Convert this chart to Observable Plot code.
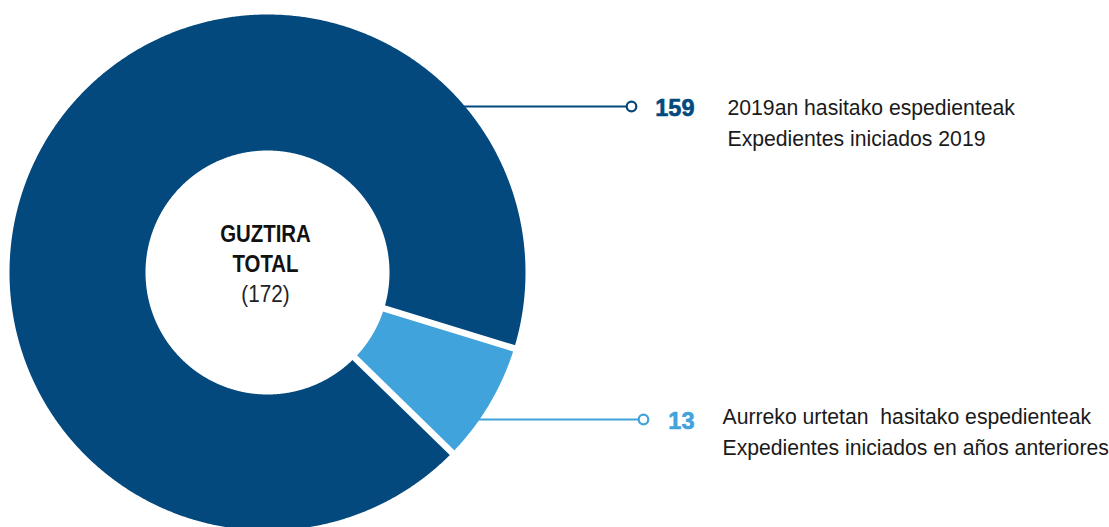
<!DOCTYPE html>
<html>
<head>
<meta charset="utf-8">
<script src="https://cdn.jsdelivr.net/npm/d3@7"></script>
<script src="https://cdn.jsdelivr.net/npm/@observablehq/plot@0.6"></script>
<style>
  html, body { margin: 0; padding: 0; background: #fff; }
  svg text { white-space: pre; }
</style>
</head>
<body>
<div id="chart"></div>
<script>
// ---- data ----
const labelsEu = ["Aurreko urtetan  hasitako espedienteak", "2019an hasitako espedienteak"];
const labelsEs = ["Expedientes iniciados en años anteriores", "Expedientes iniciados 2019"];
const values = [13, 159];
const colors = ["#41a3dc", "#03497e"];
const centerTitle = ["GUZTIRA", "TOTAL"];

// ---- layout ----
const W = 1109, H = 527;
const cx = 267, cy = 272, rOuter = 258, rInner = 122;
const startDeg = 107.1;
const leaderY = [419, 106];
const labelY = [417, 108];
const leaderEndX = [643, 631];
const numberX = 694;
const textX = [722, 727];
const FONT = "'Liberation Sans', Arial, Helvetica, sans-serif";

const total = d3.sum(values);
const pie = d3.pie().sort(null).startAngle(startDeg * Math.PI / 180).endAngle(startDeg * Math.PI / 180 + 2 * Math.PI);
const arcs = pie(values);

function pt(a, r) { return [cx + r * Math.sin(a), cy - r * Math.cos(a)]; }

const poly = [];
arcs.forEach((d, i) => {
  const n = Math.max(8, Math.ceil((d.endAngle - d.startAngle) * 180));
  const pts = [];
  for (let k = 0; k <= n; k++) pts.push(pt(d.startAngle + (d.endAngle - d.startAngle) * k / n, rOuter));
  for (let k = n; k >= 0; k--) pts.push(pt(d.startAngle + (d.endAngle - d.startAngle) * k / n, rInner));
  pts.forEach(([x, y]) => poly.push({key: i, x, y, color: colors[i]}));
});

const gaps = arcs.map(d => {
  const [x1, y1] = pt(d.startAngle, rInner - 2);
  const [x2, y2] = pt(d.startAngle, rOuter + 2);
  return {x1, y1, x2, y2};
});

const leaders = values.map((v, i) => {
  const dy = leaderY[i] - cy;
  const x1 = cx + Math.sqrt(rOuter * rOuter - dy * dy) - 1;
  return {x1, x2: leaderEndX[i] - 5, y: leaderY[i], ly: labelY[i], xe: leaderEndX[i], color: colors[i], v, eu: labelsEu[i], es: labelsEs[i], tx: textX[i]};
});

const chart = Plot.plot({
  width: W, height: H,
  margin: 0,
  x: {domain: [0, W], range: [0, W], axis: null},
  y: {domain: [0, H], range: [0, H], axis: null},
  color: {type: "identity"},
  style: {fontFamily: FONT, background: "#fff"},
  marks: [
    Plot.line(poly, {x: "x", y: "y", z: "key", fill: "color", stroke: null, curve: "linear"}),
    Plot.link(gaps, {x1: "x1", y1: "y1", x2: "x2", y2: "y2", stroke: "white", strokeWidth: 6.5}),
    Plot.ruleY(leaders, {y: "y", x1: "x1", x2: "x2", stroke: "color", strokeWidth: 2}),
    Plot.dot(leaders, {x: "xe", y: "y", r: 4.8, stroke: "color", strokeWidth: 2.2, fill: "white"}),
    Plot.text(leaders, {x: numberX, y: d => d.y + 2, text: d => String(d.v), fill: "color", textAnchor: "end", fontSize: 23.5, fontWeight: "bold", stroke: "color", strokeWidth: 0.6}),
    Plot.text(leaders, {x: "tx", y: "ly", text: "eu", fill: "#1a1a1a", textAnchor: "start", fontSize: 21.2}),
    Plot.text(leaders, {x: "tx", y: d => d.ly + 31, text: "es", fill: "#1a1a1a", textAnchor: "start", fontSize: 21.2}),
    Plot.text(centerTitle, {x: 265, y: (d, i) => 234 + i * 30, text: d => d, fill: "#111", fontSize: 24, fontWeight: "bold", className: "condb"}),
    Plot.text([`(${total})`], {x: 265, y: 294, text: d => d, fill: "#222", fontSize: 24, className: "cond"})
  ]
});
document.getElementById("chart").appendChild(chart);

// narrow the glyphs of the centre text to imitate the condensed face of the original
function condense(sel, f) {
  chart.querySelectorAll(sel).forEach(t => {
    const len = t.getComputedTextLength();
    if (len > 0) {
      t.setAttribute("textLength", (len * f).toFixed(1));
      t.setAttribute("lengthAdjust", "spacingAndGlyphs");
    }
  });
}
condense(".cond text, text.cond", 0.862);
condense(".condb text, text.condb", 0.85);
</script>
</body>
</html>
